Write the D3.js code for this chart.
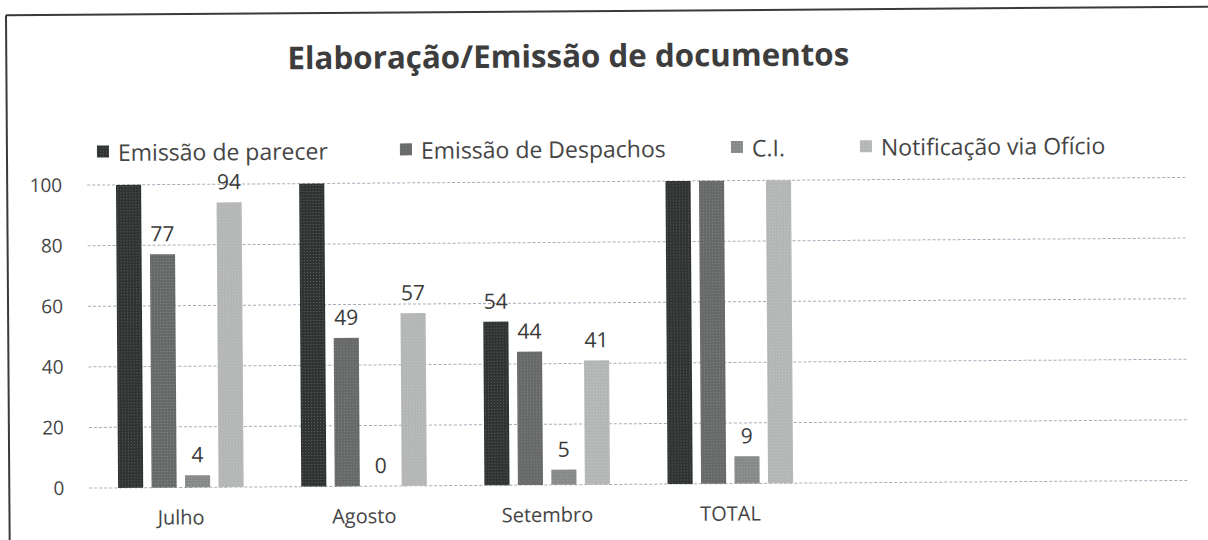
<!DOCTYPE html>
<html><head><meta charset="utf-8">
<script src="https://cdn.jsdelivr.net/npm/d3@7"></script>
<style>html,body{margin:0;padding:0;background:#fff;overflow:hidden}</style>
</head><body>
<svg id="chart" width="1208" height="540"></svg>
<script>
const title = "Elaboração/Emissão de documentos";
const categories = ["Julho", "Agosto", "Setembro", "TOTAL"];
const series = ["Emissão de parecer", "Emissão de Despachos", "C.I.", "Notificação via Ofício"];
// values above 100 are cut off by the axis in the original (their labels are hidden)
const parecer   = [118, 104, 54, 276];
const despachos = [77, 49, 44, 170];
const ci        = [4, 0, 5, 9];
const notificacao = [94, 57, 41, 192];
const yTicks = [0, 20, 40, 60, 80, 100];
const colors = ["#2f3433", "#676969", "#878989", "#b4b6b6"];

const values = [parecer, despachos, ci, notificacao];
const svg = d3.select("#chart");
const g = svg.append("g").attr("transform", "rotate(-0.4 604 300)");

// frame
g.append("line").attr("x1", 8).attr("x2", 1210).attr("y1", 11).attr("y2", 11)
  .attr("stroke", "#3a3a3a").attr("stroke-width", 2);
g.append("line").attr("x1", 8).attr("x2", 8).attr("y1", 11).attr("y2", 560)
  .attr("stroke", "#3a3a3a").attr("stroke-width", 2);

const plotL = 88, plotR = 1187, y0 = 484.5, yTop = 181.5;
const slots = 6;
const x = d3.scaleBand().domain(d3.range(slots)).range([plotL, plotR]);
const xs = d3.scaleBand().domain(d3.range(series.length)).range([0, x.bandwidth()])
  .paddingInner(0.25).paddingOuter(0.86);
const y = d3.scaleLinear().domain([0, 100]).range([y0, yTop]).clamp(true);

// gridlines
g.append("g").selectAll("line").data(yTicks).join("line")
  .attr("x1", plotL).attr("x2", plotR)
  .attr("y1", d => y(d)).attr("y2", d => y(d))
  .attr("stroke", "#a9abbb").attr("stroke-width", 1).attr("stroke-dasharray", "3,2");

// y axis labels
const yAxis = d3.axisLeft(y).tickValues(yTicks).tickSize(0).tickPadding(0);
const ya = g.append("g").attr("transform", `translate(63,0)`).call(yAxis);
ya.select(".domain").remove();
ya.selectAll("text").attr("font-family", "Open Sans").attr("font-size", 19).attr("fill", "#454545");

// x axis labels
const xAxis = d3.axisBottom(x).tickValues(d3.range(categories.length))
  .tickFormat(i => categories[i]).tickSize(0).tickPadding(0);
const xa = g.append("g").attr("transform", `translate(0,${y0})`).call(xAxis);
xa.select(".domain").remove();
xa.selectAll("text").attr("dy", null).attr("y", 37)
  .attr("font-family", "Open Sans").attr("font-size", 20).attr("fill", "#454545");

// halftone pattern overlay
const defs = svg.append("defs");
const pat = defs.append("pattern").attr("id", "dots").attr("width", 3).attr("height", 3)
  .attr("patternUnits", "userSpaceOnUse");
pat.append("rect").attr("width", 1).attr("height", 1).attr("fill", "#fff").attr("opacity", 0.22);

// bars
const groups = g.append("g").selectAll("g").data(categories).join("g")
  .attr("transform", (d, i) => `translate(${x(i)},0)`);
const cells = groups.selectAll("g.cell")
  .data((d, i) => series.map((s, k) => ({k, v: values[k][i]})))
  .join("g").attr("class", "cell");
cells.append("rect")
  .attr("x", d => xs(d.k)).attr("width", xs.bandwidth())
  .attr("y", d => y(d.v)).attr("height", d => y0 - y(d.v))
  .attr("fill", d => colors[d.k]);
cells.append("rect")
  .attr("x", d => xs(d.k)).attr("width", xs.bandwidth())
  .attr("y", d => y(d.v)).attr("height", d => y0 - y(d.v))
  .attr("fill", "url(#dots)");
cells.filter(d => d.v <= 100).append("text")
  .attr("x", d => xs(d.k) + xs.bandwidth() / 2)
  .attr("y", d => y(d.v) - 13)
  .attr("text-anchor", "middle")
  .attr("font-family", "Open Sans").attr("font-size", 21).attr("fill", "#3a3a3a")
  .text(d => d.v);

// title
function fit(sel, w) {
  const n = sel.node(); const fs = parseFloat(sel.attr("font-size"));
  const len = n.getComputedTextLength();
  sel.attr("font-size", fs * w / len);
}
const t = g.append("text").attr("x", 570).attr("y", 67).attr("text-anchor", "middle")
  .attr("font-family", "Open Sans").attr("font-weight", "bold").attr("font-size", 30)
  .attr("fill", "#3d3d3d").text(title);
fit(t, 562);

// legend
const legX = [98, 401, 732, 861];
const leg = g.append("g").selectAll("g").data(series).join("g")
  .attr("transform", (d, i) => `translate(${legX[i]},0)`);
leg.append("rect").attr("x", 0).attr("y", 142).attr("width", 12).attr("height", 12)
  .attr("fill", (d, i) => colors[i]);
leg.append("rect").attr("x", 0).attr("y", 142).attr("width", 12).attr("height", 12)
  .attr("fill", "url(#dots)");
leg.append("text").attr("x", 21).attr("y", 157.5)
  .attr("font-family", "Open Sans").attr("font-size", 23).attr("fill", "#454545")
  .text(d => d);
</script>
</body></html>
